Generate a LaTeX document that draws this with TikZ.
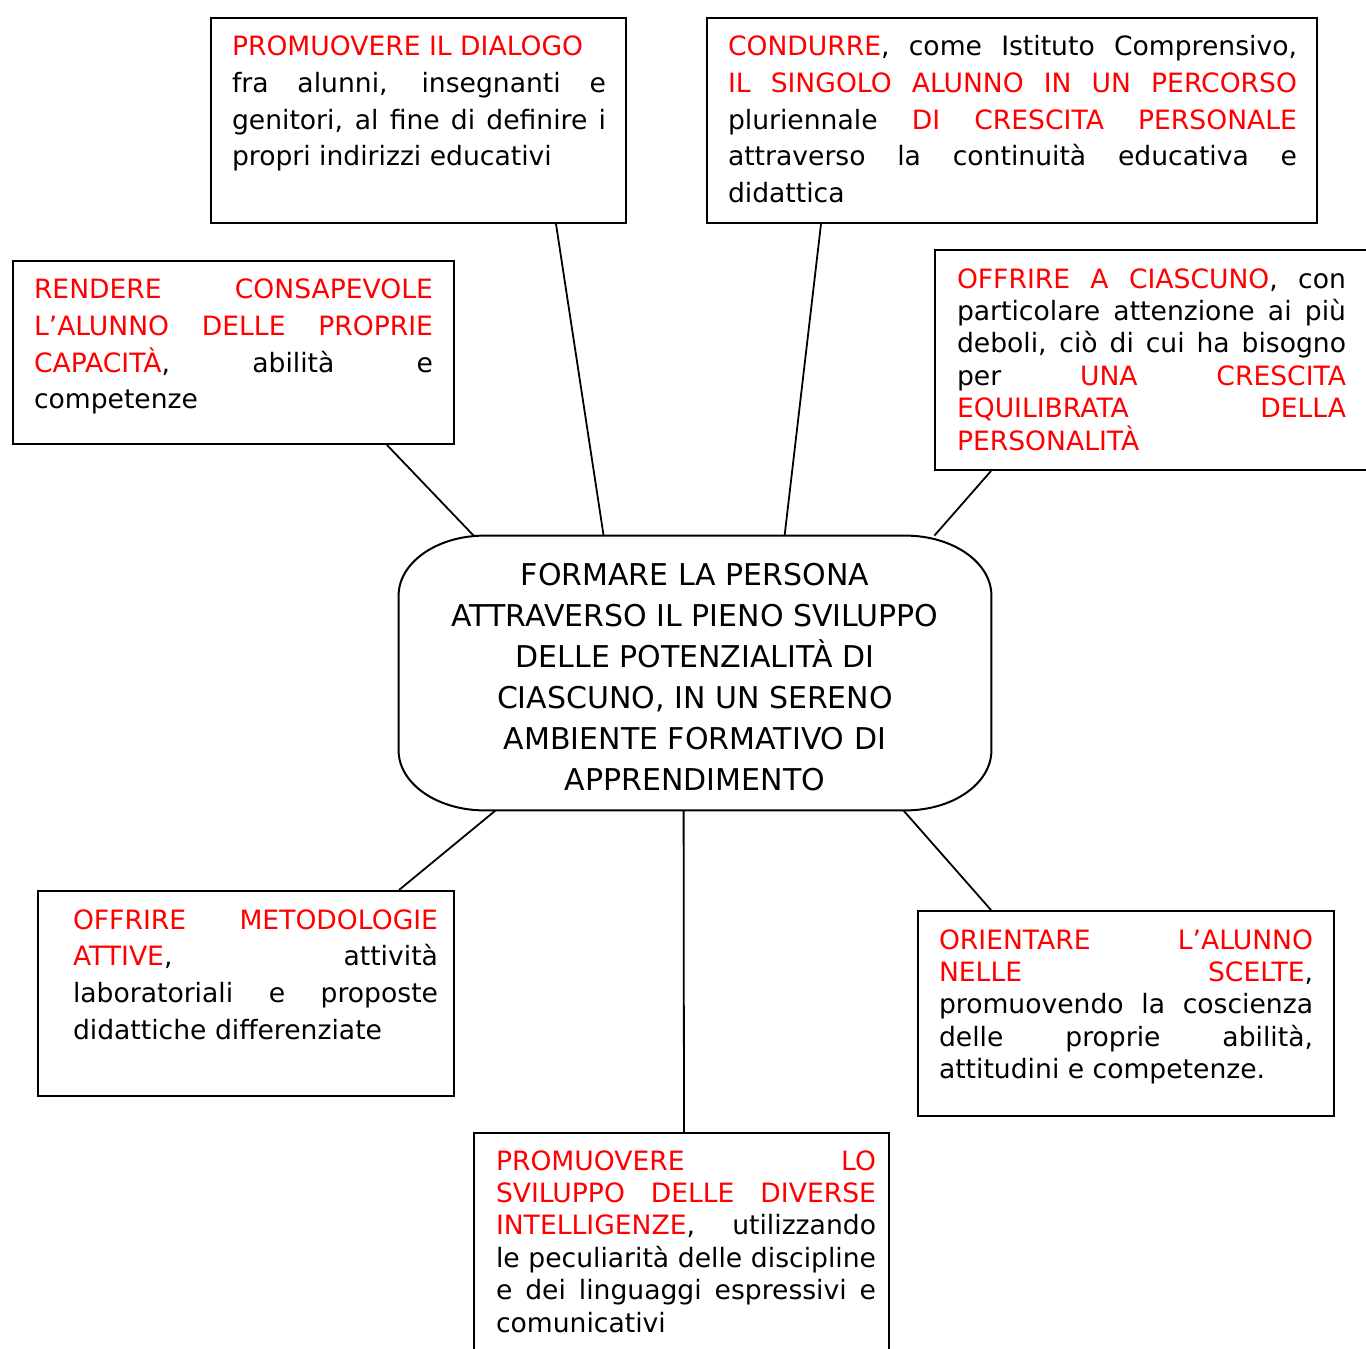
\documentclass[tikz,border=0pt]{standalone}
\usepackage{fontspec}
\setmainfont{DejaVu Sans}
\usepackage{xcolor}

\newcommand{\rosso}[1]{\textcolor{red}{#1}}
% left pad, text width, right pad, box height, first baseline, text
\newcommand{\goaltext}[6]{\hspace*{#1}\parbox[t][#4][t]{#2}{\vspace*{\dimexpr#5-10.5pt\relax}\rule{0pt}{10.5pt}#6}\hspace*{#3}}
\tolerance=10000
\hyphenpenalty=10000
\hbadness=10000

\begin{document}
\begin{tikzpicture}[x=0.5pt, y=-0.5pt,
    goalbox/.style={draw, line width=1pt, anchor=north west, inner sep=0pt},
    wide/.style={font=\fontsize{13.3}{18.4}\selectfont},
    tight/.style={font=\fontsize{13.3}{16.2}\selectfont},
    link/.style={line width=0.9pt}]

    \useasboundingbox (0,0) rectangle (1366,1349);

    % Settings
    \def\fb{18.8pt}
    \def\rx{43pt}
    \def\ry{30pt}

    % Central goal
    \node[font=\fontsize{15}{20.5}\selectfont, align=center, minimum width=296pt, minimum height=137pt, inner sep=0pt] (goal) at (695,673)
        {\rule{0pt}{15.4pt}FORMARE LA PERSONA\\ ATTRAVERSO IL PIENO SVILUPPO\\ DELLE POTENZIALITÀ DI\\ CIASCUNO, IN UN SERENO\\ AMBIENTE FORMATIVO DI\\ APPRENDIMENTO};
    \draw[line width=1pt] ([xshift=\rx]goal.north west) -- ([xshift=-\rx]goal.north east)
        arc[start angle=90, end angle=0, x radius=\rx, y radius=\ry]
        -- ([yshift=\ry]goal.south east)
        arc[start angle=0, end angle=-90, x radius=\rx, y radius=\ry]
        -- ([xshift=\rx]goal.south west)
        arc[start angle=-90, end angle=-180, x radius=\rx, y radius=\ry]
        -- ([yshift=-\ry]goal.north west)
        arc[start angle=180, end angle=90, x radius=\rx, y radius=\ry] -- cycle;

    % Boxes above
    \node[goalbox, wide] (dialogo) at (210,17) {\goaltext{10.5pt}{187pt}{10pt}{102.5pt}{\fb}{%
        \rosso{PROMUOVERE IL DIALOGO}\\ fra alunni, insegnanti e\linebreak genitori, al fine di definire i\linebreak propri indirizzi educativi}};
    \node[goalbox, wide] (condurre) at (706,17) {\goaltext{10.5pt}{284.5pt}{10pt}{102.5pt}{\fb}{%
        \rosso{CONDURRE}, come Istituto Comprensivo,\linebreak \rosso{IL SINGOLO ALUNNO IN UN PERCORSO}\linebreak pluriennale \rosso{DI CRESCITA PERSONALE}\linebreak attraverso la continuità educativa e\linebreak didattica}};
    \node[goalbox, wide] (rendere) at (12,260) {\goaltext{10.5pt}{199.5pt}{10.5pt}{91.5pt}{18.7pt}{%
        \rosso{RENDERE CONSAPEVOLE\linebreak L’ALUNNO DELLE PROPRIE\linebreak CAPACITÀ}, abilità e\linebreak competenze}};
    \node[goalbox, tight] (ciascuno) at (934,249) {\goaltext{11pt}{194.5pt}{11pt}{110pt}{19pt}{%
        \rosso{OFFRIRE A CIASCUNO}, con\linebreak particolare attenzione ai più\linebreak deboli, ciò di cui ha bisogno\linebreak per \rosso{UNA CRESCITA\linebreak EQUILIBRATA DELLA\linebreak PERSONALITÀ}}};

    % Boxes below
    \node[goalbox, wide] (metodi) at (37,890) {\goaltext{17.5pt}{182.5pt}{8pt}{102.5pt}{19pt}{%
        \rosso{OFFRIRE METODOLOGIE\linebreak ATTIVE}, attività\linebreak laboratoriali e proposte\linebreak didattiche differenziate}};
    \node[goalbox, tight] (orientare) at (917,910) {\goaltext{10.5pt}{187pt}{10.5pt}{102.5pt}{19pt}{%
        \rosso{ORIENTARE L’ALUNNO\linebreak NELLE SCELTE},\linebreak promuovendo la coscienza\linebreak delle proprie abilità,\linebreak attitudini e competenze.}};
    \node[goalbox, tight] (intelligenze) at (473,1132) {\goaltext{11pt}{190pt}{6.5pt}{130pt}{18.5pt}{%
        \rosso{PROMUOVERE LO\linebreak SVILUPPO DELLE DIVERSE\linebreak INTELLIGENZE}, utilizzando\linebreak le peculiarità delle discipline\linebreak e dei linguaggi espressivi e\linebreak comunicativi}};

    % Links
    \draw[link] ([xshift=173pt]dialogo.south west) -- ([xshift=102.5pt]goal.north west);
    \draw[link] ([xshift=57.5pt]condurre.south west) -- ([xshift=193pt]goal.north west);
    \draw[link] ([xshift=187.5pt]rendere.south west) -- ([xshift=37.5pt]goal.north west);
    \draw[link] ([xshift=28.5pt]ciascuno.south west) -- ([xshift=-28.5pt]goal.north east);
    \draw[link] ([xshift=48.5pt]goal.south west) -- ([xshift=181pt]metodi.north west);
    \draw[link] ([xshift=142.5pt]goal.south west) -- ([xshift=105.5pt]intelligenze.north west);
    \draw[link] ([xshift=-44pt]goal.south east) -- ([xshift=37pt]orientare.north west);
\end{tikzpicture}
\end{document}
